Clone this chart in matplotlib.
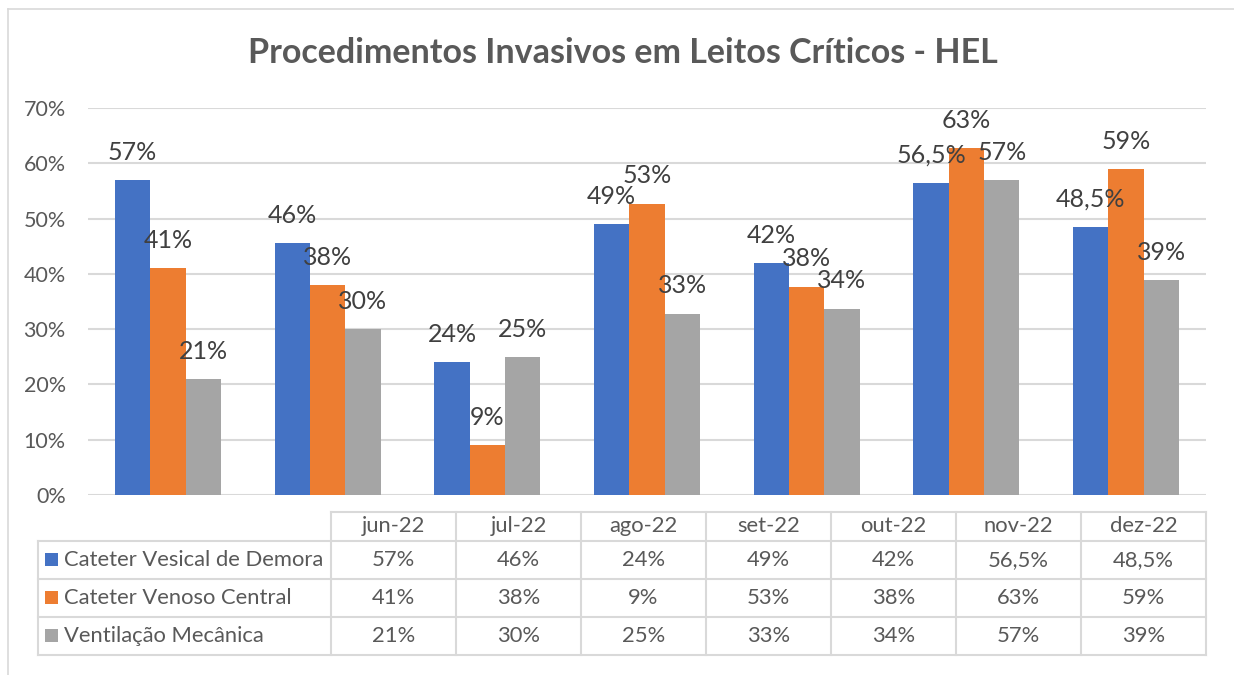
import numpy as np
import matplotlib.pyplot as plt
from matplotlib.patches import Rectangle

plt.rcParams["font.family"] = ["Lato", "DejaVu Sans"]

# data
months = ["jun-22", "jul-22", "ago-22", "set-22", "out-22", "nov-22", "dez-22"]
series_names = ["Cateter Vesical de Demora", "Cateter Venoso Central", "Ventilação Mecânica"]
vesical = [57, 45.5, 24, 49, 42, 56.5, 48.5]
venoso = [41, 38, 9, 52.7, 37.7, 62.7, 59]
ventilacao = [21, 30, 25, 32.8, 33.7, 57, 38.9]
vesical_lbl = ["57%", "46%", "24%", "49%", "42%", "56,5%", "48,5%"]
venoso_lbl = ["41%", "38%", "9%", "53%", "38%", "63%", "59%"]
ventilacao_lbl = ["21%", "30%", "25%", "33%", "34%", "57%", "39%"]

colors = ["#4472C4", "#ED7D31", "#A5A5A5"]
grid_c = "#D9D9D9"
text_c = "#595959"

W, H = 1234, 675
fig = plt.figure(figsize=(W / 100, H / 100), dpi=100)

# overlay axes in pixel coordinates for frame / title / table
ov = fig.add_axes([0, 0, 1, 1])
ov.set_xlim(0, W)
ov.set_ylim(H, 0)
ov.axis("off")

# bar plot area
px_l, px_r, px_top, px_bot = 88, 1206, 108, 495
ax = fig.add_axes([px_l / W, (H - px_bot) / H, (px_r - px_l) / W, (px_bot - px_top) / H])
x = np.arange(len(months))
bw = 0.221
all_vals = [vesical, venoso, ventilacao]
all_lbls = [vesical_lbl, venoso_lbl, ventilacao_lbl]
for i, (vals, lbls) in enumerate(zip(all_vals, all_lbls)):
    xs = x + (i - 1) * bw
    ax.bar(xs, np.array(vals) / 100, width=bw, color=colors[i], zorder=3)
    for xi, v, t in zip(xs, vals, lbls):
        ax.annotate(t, (xi, v / 100), xytext=(0, 20), textcoords="offset points",
                    ha="center", va="center", fontsize=18, color="#404040", zorder=4)
ax.set_xlim(-0.5, len(months) - 0.5)
ax.set_ylim(0, 0.70)
ax.set_yticks(np.arange(0, 0.71, 0.10))
ax.set_yticklabels([f"{int(round(t * 100))}%" for t in np.arange(0, 0.71, 0.10)])
ax.tick_params(axis="y", length=0, pad=16, labelsize=15.5, labelcolor=text_c)
ax.set_xticks([])
ax.grid(axis="y", color=grid_c, linewidth=1.5, zorder=0)
for s in ax.spines.values():
    s.set_visible(False)
ax.set_facecolor("none")

# outer frame
ov.plot([8, 8], [9, H], color=grid_c, lw=1.2)
ov.plot([8, W], [9, 9], color=grid_c, lw=1.2)

# title
ov.text(623, 53, "Procedimentos Invasivos em Leitos Críticos - HEL", ha="center", va="center",
        fontsize=24.5, fontweight="bold", color=text_c)

# data table
tbl_l, col0, col_w = 37.6, 331, 125
row_y = [511.7, 540.7, 578.7, 616.7, 655]
tbl_r = col0 + col_w * len(months)
lc = dict(color=grid_c, lw=1.5)
ov.plot([col0, tbl_r], [row_y[0], row_y[0]], **lc)
for yy in row_y[1:]:
    ov.plot([tbl_l, tbl_r], [yy, yy], **lc)
ov.plot([tbl_l, tbl_l], [row_y[1], row_y[-1]], **lc)
for j in range(len(months) + 1):
    xx = col0 + j * col_w
    ov.plot([xx, xx], [row_y[0], row_y[-1]], **lc)

tfs = 15.8
for j, m in enumerate(months):
    ov.text(col0 + (j + 0.5) * col_w, (row_y[0] + row_y[1]) / 2, m, ha="center", va="center",
            fontsize=tfs, color=text_c)
for i, (name, lbls) in enumerate(zip(series_names, all_lbls)):
    yc = (row_y[i + 1] + row_y[i + 2]) / 2
    ov.add_patch(Rectangle((45, yc - 6.5), 13, 13, color=colors[i], lw=0))
    ov.text(64, yc, name, ha="left", va="center", fontsize=tfs, color=text_c)
    for j, t in enumerate(lbls):
        ov.text(col0 + (j + 0.5) * col_w, yc, t, ha="center", va="center", fontsize=tfs, color=text_c)

fig.savefig("out.png", dpi=100)
